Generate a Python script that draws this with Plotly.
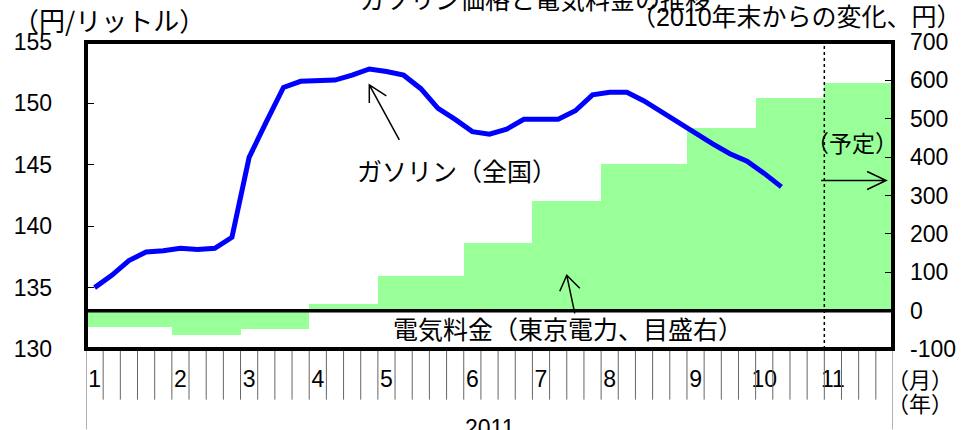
import numpy as np
import plotly.graph_objects as go

# 週次データ（2011年1月〜10月）
months = ["1", "2", "3", "4", "5", "6", "7", "8", "9", "10", "11"]
weeks_per_month = [5, 4, 4, 4, 5, 4, 4, 5, 4, 4, 4]

# ガソリン価格（全国、円/リットル）
gasoline = [135.0, 136.0, 137.2, 137.9, 138.0, 138.2, 138.1, 138.2, 139.1, 145.6,
            148.5, 151.3, 151.8, 151.9, 151.9, 152.3, 152.8, 152.6, 152.3, 151.2,
            149.6, 148.7, 147.7, 147.5, 147.9, 148.7, 148.7, 148.7, 149.4, 150.7,
            150.9, 150.9, 150.2, 149.3, 148.5, 147.5, 146.7, 145.9, 145.3, 144.3,
            143.2]

# 電気料金（東京電力、2010年末からの変化、円）
electricity = [-42, -64, -47, 16, 91, 175, 285, 383, 477, 554, 593]

# 右目盛
right_ticks = [-100, 0, 100, 200, 300, 400, 500, 600, 700]

JP = "Noto Sans CJK JP"
NUM = "Liberation Sans, Noto Sans CJK JP"

starts = np.concatenate([[0], np.cumsum(weeks_per_month)[:-1]])
n_weeks = int(np.sum(weeks_per_month))

fig = go.Figure()

# 電気料金（右目盛）
fig.add_trace(go.Bar(
    x=starts + np.array(weeks_per_month) / 2, y=electricity, width=weeks_per_month,
    marker=dict(color="#99ff99", line=dict(width=0)), yaxis="y", showlegend=False,
))

# ガソリン（左目盛）
fig.add_trace(go.Scatter(
    x=np.arange(len(gasoline)) + 0.5, y=gasoline, mode="lines",
    line=dict(color="#0000ff", width=5), yaxis="y2", showlegend=False,
))

shapes = []
# 週の区切り線（横軸の下）
for k in range(n_weeks + 1):
    bottom = -0.262 if k in (0, n_weeks) else -0.165
    shapes.append(dict(type="line", xref="x", yref="paper", x0=k, x1=k, y0=0, y1=bottom,
                       line=dict(color="#666", width=1)))
# 予定の区切り（点線）
shapes.append(dict(type="line", xref="x", yref="paper", x0=n_weeks - weeks_per_month[-1],
                   x1=n_weeks - weeks_per_month[-1], y0=0, y1=1,
                   line=dict(color="black", width=1.5, dash="dot")))
# 0 の線
shapes.append(dict(type="line", xref="paper", yref="y", x0=0, x1=1, y0=0, y1=0,
                   line=dict(color="black", width=3.5)))
# 枠
shapes.append(dict(type="rect", xref="paper", yref="paper", x0=0, x1=1, y0=0, y1=1,
                   line=dict(color="black", width=4)))


def arrow(x, y, yref, path):
    return dict(type="path", xref="x", yref=yref, xsizemode="pixel", ysizemode="pixel",
                xanchor=x, yanchor=y, path=path, line=dict(color="black", width=1.5))


shapes.append(arrow(16.5, 151.5, "y2", "M 17,-11 L 0,0 L 0,-18 M 0,0 L 30,-55"))
shapes.append(arrow(28.0, 92, "y", "M -7,-16 L 0,0 L 13,-13 M 0,0 L 8,-38"))
shapes.append(arrow(46.6, 339, "y", "M -19,9 L 0,0 L -19,-9 M 0,0 L -65,0"))


def label(text, x, y, size=25, family=JP, xref="paper", yref="paper"):
    return dict(text=text, xref=xref, yref=yref, x=x, y=y, xanchor="center",
                yanchor="middle", showarrow=False, font=dict(family=family, size=size))


annotations = [
    label("ガソリン価格と電気料金の推移", 0.556, 1.142),
    label("（円/リットル）", 0.0285, 1.073, size=26),
    label("（2010年末からの変化、円）", 0.881, 1.083, family=NUM),
    label("ガソリン（全国）", 21.6, 144.6, xref="x", yref="y2"),
    label("電気料金（東京電力、目盛右）", 28.07, -46, xref="x", yref="y"),
    label("（予定）", 44.6, 440, size=23, xref="x", yref="y"),
    label("（月）", 1.033, -0.093, size=22),
    label("（年）", 1.033, -0.174, size=22),
    label("2011", n_weeks / 2, -0.258, size=23, family=NUM, xref="x"),
]

fig.update_layout(
    width=979, height=430, margin=dict(l=86, r=86, t=42, b=81),
    plot_bgcolor="white", paper_bgcolor="white", bargap=0,
    font=dict(family=NUM, size=23, color="black"),
    xaxis=dict(range=[0, n_weeks], showgrid=False, zeroline=False, showline=False,
               tickvals=starts + 0.5, ticktext=months, ticks="", ticklabelstandoff=14,
               tickfont=dict(size=23)),
    yaxis=dict(range=[-100, 700], side="right", tickvals=right_ticks,
               ticktext=[str(v) for v in right_ticks], showgrid=False, zeroline=False,
               showline=False, ticks="inside", ticklen=8, tickcolor="black",
               ticklabelstandoff=16),
    yaxis2=dict(range=[130, 155], overlaying="y", side="left", dtick=5, showgrid=False,
                zeroline=False, showline=False, ticks="inside", ticklen=8,
                tickcolor="black", ticklabelstandoff=33),
    shapes=shapes, annotations=annotations,
)

fig.write_html("out.html", config={"displayModeBar": False},
               post_script="document.body.style.margin='0';")
